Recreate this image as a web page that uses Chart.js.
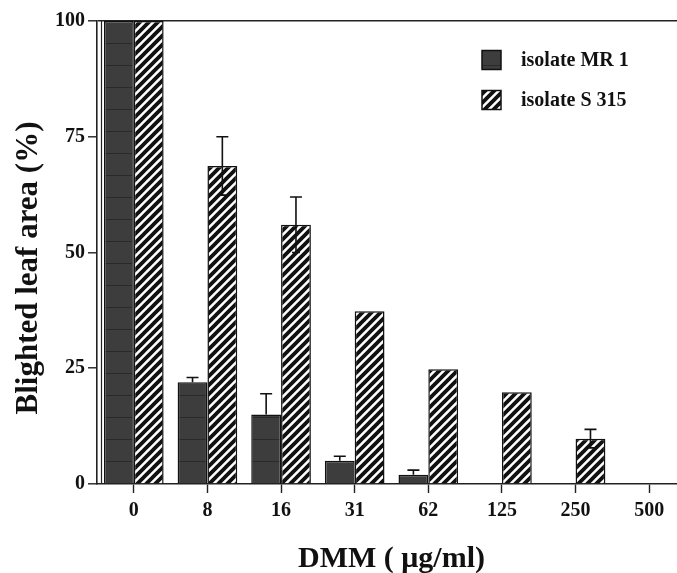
<!DOCTYPE html>
<html>
<head>
<meta charset="utf-8">
<script src="https://cdn.jsdelivr.net/npm/chart.js@4"></script>
<style>
  html, body { margin: 0; padding: 0; background: #fff; overflow: hidden; }
  #wrap { width: 686px; height: 573px; }
</style>
</head>
<body>
<div id="wrap"><canvas id="chart" width="686" height="573"></canvas></div>
<script>
const doses = ['0', '8', '16', '31', '62', '125', '250', '500'];
const mr1Values = [100, 22, 15, 5, 2, 0, 0, 0];
const mr1Err = [0, 1, 4.5, 1, 1, 0, 0, 0];
const s315Values = [100, 68.7, 56, 37.3, 24.8, 19.8, 9.8, 0];
const s315Err = [0, 6.3, 6, 0, 0, 0, 2, 0];
const yTicks = [0, 25, 50, 75, 100];

const serif = '"Liberation Serif", "DejaVu Serif", serif';
const yTitle = 'Blighted leaf area (%)';

// fill patterns
function makeDark() {
    const c = document.createElement('canvas');
    c.width = 8; c.height = 22;
    const g = c.getContext('2d');
    g.fillStyle = '#3d3d3d';
    g.fillRect(0, 0, 8, 22);
    g.fillStyle = '#2a2a2a';
    g.fillRect(0, 21, 8, 1);
    return g.createPattern(c, 'repeat');
}

function makeHatch() {
    const n = 9;
    const c = document.createElement('canvas');
    c.width = n; c.height = n;
    const g = c.getContext('2d');
    g.fillStyle = '#fff';
    g.fillRect(0, 0, n, n);
    g.strokeStyle = '#111';
    g.lineWidth = 3.8;
    g.beginPath();
    // main diagonal plus the two corner pieces so the tile wraps
    g.moveTo(-2, n + 2); g.lineTo(n + 2, -2);
    g.moveTo(-3, 3); g.lineTo(3, -3);
    g.moveTo(n - 3, n + 3); g.lineTo(n + 3, n - 3);
    g.stroke();
    return g.createPattern(c, 'repeat');
}

const darkFill = makeDark();
const hatchFill = makeHatch();

const errorBars = {
    id: 'errorBars',
    afterDatasetsDraw(chart) {
        const ctx = chart.ctx;
        const y = chart.scales.y;
        const errs = [mr1Err, s315Err];
        ctx.save();
        ctx.strokeStyle = '#111';
        ctx.lineWidth = 1.6;
        errs.forEach((err, di) => {
            const meta = chart.getDatasetMeta(di);
            meta.data.forEach((bar, i) => {
                if (!err[i]) return;
                const v = chart.data.datasets[di].data[i];
                const top = y.getPixelForValue(v + err[i]);
                ctx.beginPath();
                ctx.moveTo(bar.x, bar.y); ctx.lineTo(bar.x, top);
                ctx.moveTo(bar.x - 6, top); ctx.lineTo(bar.x + 6, top);
                if (di === 1) {
                    // lower half shows faintly through the hatching
                    const bot = y.getPixelForValue(v - err[i]);
                    ctx.moveTo(bar.x, bar.y); ctx.lineTo(bar.x, bot);
                    ctx.moveTo(bar.x - 4, bot); ctx.lineTo(bar.x + 4, bot);
                }
                ctx.stroke();
            });
        });
        ctx.restore();
    }
};

const frame = {
    id: 'frame',
    afterDraw(chart) {
        const ctx = chart.ctx;
        const a = chart.chartArea;
        ctx.save();
        ctx.strokeStyle = '#222';
        ctx.lineWidth = 1.2;
        ctx.beginPath();
        ctx.moveTo(a.left + 4.5, a.top);
        ctx.lineTo(a.left + 4.5, a.bottom);
        ctx.stroke();

        // y title
        ctx.save();
        ctx.translate(29, 268);
        ctx.rotate(-Math.PI / 2);
        ctx.font = 'bold 31px ' + serif;
        ctx.fillStyle = '#111';
        ctx.textAlign = 'center';
        ctx.textBaseline = 'middle';
        ctx.fillText(yTitle, 0, 0);
        ctx.restore();

        // legend
        ctx.font = 'bold 20px ' + serif;
        ctx.textBaseline = 'middle';
        chart.data.datasets.forEach((ds, i) => {
            const yc = 60 + i * 40;
            ctx.fillStyle = ds.backgroundColor;
            ctx.fillRect(482, yc - 9.5, 19, 19);
            ctx.lineWidth = 1.5;
            ctx.strokeStyle = '#111';
            ctx.strokeRect(482, yc - 9.5, 19, 19);
            ctx.fillStyle = '#111';
            ctx.fillText(ds.label, 521, yc + 1);
        });
        ctx.restore();
    }
};

new Chart(document.getElementById('chart'), {
    type: 'bar',
    data: {
        labels: doses,
        datasets: [
            {
                label: 'isolate MR 1',
                data: mr1Values,
                backgroundColor: darkFill,
                borderColor: '#111',
                borderWidth: c => (c.raw ? 1.5 : 0),
                borderSkipped: 'start'
            },
            {
                label: 'isolate S 315',
                data: s315Values,
                backgroundColor: hatchFill,
                borderColor: '#111',
                borderWidth: c => (c.raw ? 1.5 : 0),
                borderSkipped: 'start'
            }
        ]
    },
    options: {
        responsive: false,
        animation: false,
        events: [],
        layout: { padding: { top: 21, right: 0, left: 0, bottom: 0 } },
        plugins: {
            legend: { display: false },
            tooltip: { enabled: false }
        },
        datasets: {
            bar: { categoryPercentage: 0.81, barPercentage: 1 }
        },
        scales: {
            x: {
                afterFit: s => { s.height = 89; },
                border: { display: true, color: '#222', width: 1.6 },
                grid: {
                    display: true,
                    offset: false,
                    drawOnChartArea: false,
                    tickLength: 9,
                    tickColor: '#222',
                    tickWidth: 1.4
                },
                ticks: {
                    color: '#111',
                    padding: 6,
                    font: { family: serif, size: 20, weight: 'bold' }
                },
                title: {
                    display: true,
                    text: 'DMM ( \u03bcg/ml)',
                    color: '#111',
                    padding: { top: 0, bottom: -4 },
                    font: { family: serif, size: 30, weight: 'bold' }
                }
            },
            y: {
                min: 0,
                max: 100,
                afterFit: s => { s.width = 97; },
                afterBuildTicks: s => { s.ticks = yTicks.map(v => ({ value: v })); },
                border: { display: true, color: '#222', width: 1.6 },
                grid: {
                    drawOnChartArea: true,
                    color: c => (c.tick && c.tick.value === 100 ? '#222' : 'rgba(0,0,0,0)'),
                    lineWidth: 1.6,
                    tickLength: 9,
                    tickColor: '#222',
                    tickWidth: 1.4
                },
                ticks: {
                    color: '#111',
                    padding: 3,
                    font: { family: serif, size: 20, weight: 'bold' }
                },
                title: { display: false }
            }
        }
    },
    plugins: [errorBars, frame]
});
</script>
</body>
</html>
